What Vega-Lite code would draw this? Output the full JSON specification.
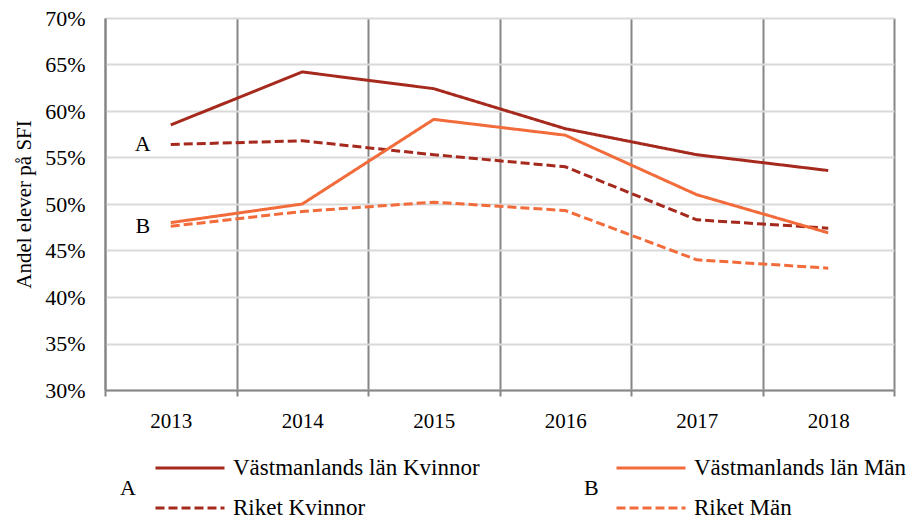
{
  "$schema": "https://vega.github.io/schema/vega-lite/v6.json",
  "width": 789,
  "height": 372,
  "autosize": "none",
  "padding": {"left": 105, "top": 18, "right": 21, "bottom": 129},
  "background": "white",
  "config": {
    "font": "Liberation Serif",
    "view": {"stroke": null},
    "text": {"font": "Liberation Serif"},
    "axis": {"labelFont": "Liberation Serif", "titleFont": "Liberation Serif", "labelColor": "#000000", "titleColor": "#000000"},
    "legend": {"labelFont": "Liberation Serif", "titleFont": "Liberation Serif"}
  },
  "datasets": {
    "lines": [
      {"year": "2013", "series": "Västmanlands län Kvinnor", "grp": "A", "value": 0.585},
      {"year": "2014", "series": "Västmanlands län Kvinnor", "grp": "A", "value": 0.642},
      {"year": "2015", "series": "Västmanlands län Kvinnor", "grp": "A", "value": 0.624},
      {"year": "2016", "series": "Västmanlands län Kvinnor", "grp": "A", "value": 0.581},
      {"year": "2017", "series": "Västmanlands län Kvinnor", "grp": "A", "value": 0.553},
      {"year": "2018", "series": "Västmanlands län Kvinnor", "grp": "A", "value": 0.536},
      {"year": "2013", "series": "Riket Kvinnor", "grp": "A", "value": 0.564},
      {"year": "2014", "series": "Riket Kvinnor", "grp": "A", "value": 0.568},
      {"year": "2015", "series": "Riket Kvinnor", "grp": "A", "value": 0.553},
      {"year": "2016", "series": "Riket Kvinnor", "grp": "A", "value": 0.540},
      {"year": "2017", "series": "Riket Kvinnor", "grp": "A", "value": 0.483},
      {"year": "2018", "series": "Riket Kvinnor", "grp": "A", "value": 0.474},
      {"year": "2013", "series": "Västmanlands län Män", "grp": "B", "value": 0.480},
      {"year": "2014", "series": "Västmanlands län Män", "grp": "B", "value": 0.500},
      {"year": "2015", "series": "Västmanlands län Män", "grp": "B", "value": 0.591},
      {"year": "2016", "series": "Västmanlands län Män", "grp": "B", "value": 0.574},
      {"year": "2017", "series": "Västmanlands län Män", "grp": "B", "value": 0.510},
      {"year": "2018", "series": "Västmanlands län Män", "grp": "B", "value": 0.469},
      {"year": "2013", "series": "Riket Män", "grp": "B", "value": 0.476},
      {"year": "2014", "series": "Riket Män", "grp": "B", "value": 0.492},
      {"year": "2015", "series": "Riket Män", "grp": "B", "value": 0.502},
      {"year": "2016", "series": "Riket Män", "grp": "B", "value": 0.493},
      {"year": "2017", "series": "Riket Män", "grp": "B", "value": 0.440},
      {"year": "2018", "series": "Riket Män", "grp": "B", "value": 0.431}
    ],
    "notes": [
      {"year": "2013", "value": 0.564, "label": "A", "shift": -2},
      {"year": "2013", "value": 0.476, "label": "B", "shift": 2}
    ]
  },
  "encoding": {
    "x": {
      "field": "year", "type": "ordinal", "bandPosition": 0.5,
      "scale": {"type": "band", "paddingInner": 0, "paddingOuter": 0},
      "axis": {
        "title": null, "labelAngle": 0, "labelFont": "Liberation Serif", "labelFontSize": 21, "labelPadding": 14,
        "tickBand": "extent", "ticks": true, "tickSize": 6, "tickColor": "#868686", "tickWidth": 2,
        "domainColor": "#868686", "domainWidth": 2,
        "grid": true, "gridColor": "#868686", "gridWidth": 2
      }
    },
    "y": {
      "field": "value", "type": "quantitative",
      "scale": {"domain": [0.3, 0.7], "nice": false, "zero": false},
      "axis": {
        "title": "Andel elever på SFI", "titleFont": "Liberation Serif", "titleFontSize": 21, "titleFontWeight": "normal", "titlePadding": 10,
        "values": [0.3, 0.35, 0.4, 0.45, 0.5, 0.55, 0.6, 0.65, 0.7],
        "format": ".0%", "labelFont": "Liberation Serif", "labelFontSize": 22, "labelPadding": 20, "ticks": false,
        "domainColor": "#868686", "domainWidth": 2,
        "grid": true, "gridColor": "#d9d9d9", "gridWidth": 2
      }
    }
  },
  "layer": [
    {
      "data": {"name": "lines"},
      "transform": [{"filter": "datum.grp === 'A'"}],
      "mark": {"type": "line", "strokeWidth": 3},
      "encoding": {
        "color": {
          "field": "series", "type": "nominal",
          "scale": {"domain": ["Västmanlands län Kvinnor", "Riket Kvinnor"], "range": ["#A52A1D", "#A52A1D"]},
          "legend": {"title": "A", "orient": "none", "legendX": 15, "legendY": 433, "direction": "vertical",
            "titleOrient": "left", "titleFont": "Liberation Serif", "titleFontSize": 22, "titleFontWeight": "normal", "titlePadding": 18, "titleAnchor": "middle", "titleBaseline": "middle",
            "symbolType": "stroke", "symbolSize": 4761, "symbolStrokeWidth": 3, "clipHeight": 34, "rowPadding": 6,
            "labelFont": "Liberation Serif", "labelFontSize": 23, "labelOffset": 7, "labelColor": "#000000", "titleColor": "#000000", "labelLimit": 400}
        },
        "strokeDash": {
          "field": "series", "type": "nominal",
          "scale": {"domain": ["Västmanlands län Kvinnor", "Riket Kvinnor"], "range": [[1, 0], [9, 4]]},
          "legend": {"title": "A", "orient": "none", "legendX": 15, "legendY": 433, "direction": "vertical",
            "titleOrient": "left", "titleFont": "Liberation Serif", "titleFontSize": 22, "titleFontWeight": "normal", "titlePadding": 18, "titleAnchor": "middle", "titleBaseline": "middle",
            "symbolType": "stroke", "symbolSize": 4761, "symbolStrokeWidth": 3, "clipHeight": 34, "rowPadding": 6,
            "labelFont": "Liberation Serif", "labelFontSize": 23, "labelOffset": 7, "labelColor": "#000000", "titleColor": "#000000", "labelLimit": 400}
        }
      }
    },
    {
      "data": {"name": "lines"},
      "transform": [{"filter": "datum.grp === 'B'"}],
      "mark": {"type": "line", "strokeWidth": 3},
      "encoding": {
        "color": {
          "field": "series", "type": "nominal",
          "scale": {"domain": ["Västmanlands län Män", "Riket Män"], "range": ["#F26B3A", "#F26B3A"]},
          "legend": {"title": "B", "orient": "none", "legendX": 479, "legendY": 433, "direction": "vertical",
            "titleOrient": "left", "titleFont": "Liberation Serif", "titleFontSize": 22, "titleFontWeight": "normal", "titlePadding": 16, "titleAnchor": "middle", "titleBaseline": "middle",
            "symbolType": "stroke", "symbolSize": 4761, "symbolStrokeWidth": 3, "clipHeight": 34, "rowPadding": 6,
            "labelFont": "Liberation Serif", "labelFontSize": 23, "labelOffset": 7, "labelColor": "#000000", "titleColor": "#000000", "labelLimit": 400}
        },
        "strokeDash": {
          "field": "series", "type": "nominal",
          "scale": {"domain": ["Västmanlands län Män", "Riket Män"], "range": [[1, 0], [9, 4]]},
          "legend": {"title": "B", "orient": "none", "legendX": 479, "legendY": 433, "direction": "vertical",
            "titleOrient": "left", "titleFont": "Liberation Serif", "titleFontSize": 22, "titleFontWeight": "normal", "titlePadding": 16, "titleAnchor": "middle", "titleBaseline": "middle",
            "symbolType": "stroke", "symbolSize": 4761, "symbolStrokeWidth": 3, "clipHeight": 34, "rowPadding": 6,
            "labelFont": "Liberation Serif", "labelFontSize": 23, "labelOffset": 7, "labelColor": "#000000", "titleColor": "#000000", "labelLimit": 400}
        }
      }
    },
    {
      "data": {"name": "notes"},
      "mark": {"type": "text", "font": "Liberation Serif", "fontSize": 22, "dx": -28, "align": "center", "baseline": "middle", "color": "#000000"},
      "encoding": {
        "text": {"field": "label"},
        "yOffset": {"field": "shift", "type": "quantitative", "scale": null}
      }
    }
  ],
  "resolve": {"scale": {"color": "independent", "strokeDash": "independent"}}
}
